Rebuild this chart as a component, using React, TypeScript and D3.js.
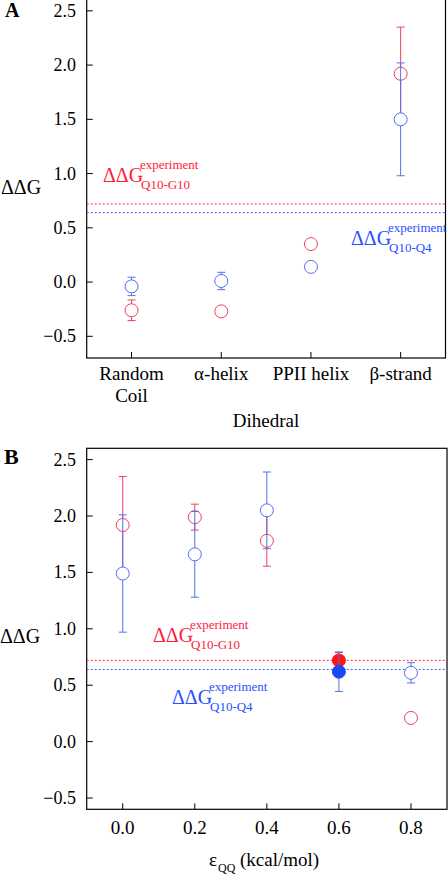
import React from "react";
import * as d3 from "d3";

const categoriesA = ["Random Coil", "α-helix", "PPII helix", "β-strand"];
const redA = [-0.26, -0.27, 0.35, 1.92];
const redErrA = [0.095, 0, 0, 0.43];
const blueA = [-0.04, 0.01, 0.14, 1.5];
const blueErrA = [0.085, 0.08, 0, 0.52];

const epsB = [0, 0.2, 0.4, 0.6, 0.8];
const redB = [1.92, 1.99, 1.78, 0.72, 0.21];
const redErrB = [0.43, 0.115, 0.225, 0.07, 0];
const blueB = [1.49, 1.66, 2.05, 0.62, 0.61];
const blueErrB = [0.52, 0.38, 0.34, 0.175, 0.09];
const filledB = [false, false, false, true, false];

const yTicks = [-0.5, 0, 0.5, 1, 1.5, 2, 2.5];
const xTicksB = [0, 0.2, 0.4, 0.6, 0.8];
const expRed = 0.72;
const expBlue = 0.64;

const RED = "#f0405a";
const BLUE = "#5070f0";
const RED_DASH = "#ff2050";
const BLUE_DASH = "#3858f8";
const RED_FILL = "#ff1414";
const BLUE_FILL = "#1848f0";
const FONT = "Liberation Serif, DejaVu Serif, serif";

function ErrPoint({ x, y, e, yS, color, filled, fillColor }: any) {
  const cy = yS(y);
  return (
    <g>
      {e > 0 && (
        <g stroke={color} strokeWidth={1}>
          <line x1={x} x2={x} y1={yS(y + e)} y2={yS(y - e)} />
          <line x1={x - 4} x2={x + 4} y1={yS(y + e)} y2={yS(y + e)} />
          <line x1={x - 4} x2={x + 4} y1={yS(y - e)} y2={yS(y - e)} />
        </g>
      )}
      <circle
        cx={x}
        cy={cy}
        r={6.5}
        fill={filled ? fillColor : "#fff"}
        stroke={filled ? fillColor : color}
        strokeWidth={1}
      />
    </g>
  );
}

function ExpLabel({ x, y, color, sub }: any) {
  return (
    <g fill={color}>
      <text x={x} y={y} style={{ fontFamily: FONT, fontSize: 20 }}>ΔΔG</text>
      <text x={x + 37} y={y - 13} style={{ fontFamily: FONT, fontSize: 13 }}>experiment</text>
      <text x={x + 38} y={y + 7} style={{ fontFamily: FONT, fontSize: 13 }}>{sub}</text>
    </g>
  );
}

export default function App() {
  const axL = 86.7, axR = 445.5, ayT = -1, ayB = 358;
  const xA = d3.scaleLinear().domain([0.5, 4.5]).range([axL, axR]);
  const yA = d3.scaleLinear().domain([-0.7, 2.6]).range([ayB, 0]);
  const bxL = 86.7, bxR = 447, byT = 448.3, byB = 809.3;
  const xB = d3.scaleLinear().domain([-0.1, 0.9]).range([bxL, bxR]);
  const yB = d3.scaleLinear().domain([-0.6, 2.6]).range([byB, byT]);
  const fmt = d3.format(".1f");

  const catLines = categoriesA.map((c) => (c === "Random Coil" ? ["Random", "Coil"] : [c]));
  const t = (size: number, extra: any = {}) => ({ fontFamily: FONT, fontSize: size, ...extra });

  return (
    <svg
      width={448}
      height={874}
      style={{ position: "absolute", left: 0, top: 0, background: "#fff", fontFamily: FONT }}
    >
      <rect x={0} y={0} width={448} height={874} fill="#fff" />
      {/* Panel A */}
      <text x={5} y={17} style={t(20, { fontWeight: "bold" })}>A</text>
      <rect x={axL} y={ayT} width={axR - axL} height={ayB - ayT} fill="none" stroke="#000" strokeWidth={1.2} />
      {yTicks.map((v) => (
        <g key={"ya" + v}>
          <line x1={axL} x2={axL + 6} y1={yA(v)} y2={yA(v)} stroke="#000" />
          <text x={76} y={yA(v) + 6} textAnchor="end" style={t(18)}>{fmt(v)}</text>
        </g>
      ))}
      {categoriesA.map((c, i) => (
        <g key={c}>
          <line x1={xA(i + 1)} x2={xA(i + 1)} y1={ayB} y2={ayB - 6} stroke="#000" />
          {catLines[i].map((ln, j) => (
            <text key={ln} x={xA(i + 1)} y={380 + j * 21.7} textAnchor="middle" style={t(19)}>{ln}</text>
          ))}
        </g>
      ))}
      <text x={266} y={427} textAnchor="middle" style={t(19)}>Dihedral</text>
      <text x={1} y={194} style={t(20)}>ΔΔG</text>
      <line x1={axL} x2={axR} y1={yA(expRed)} y2={yA(expRed)} stroke={RED_DASH} strokeDasharray="2,2" />
      <line x1={axL} x2={axR} y1={yA(expBlue)} y2={yA(expBlue)} stroke={BLUE_DASH} strokeDasharray="2,2" />
      <ExpLabel x={103} y={182} color="#ff1a3a" sub="Q10-G10" />
      <ExpLabel x={351} y={245} color="#2850ff" sub="Q10-Q4" />
      {categoriesA.map((c, i) => (
        <ErrPoint key={"ra" + i} x={xA(i + 1)} y={redA[i]} e={redErrA[i]} yS={yA} color={RED} />
      ))}
      {categoriesA.map((c, i) => (
        <ErrPoint key={"ba" + i} x={xA(i + 1)} y={blueA[i]} e={blueErrA[i]} yS={yA} color={BLUE} />
      ))}

      {/* Panel B */}
      <text x={4} y={464} style={t(22, { fontWeight: "bold" })}>B</text>
      <rect x={bxL} y={byT} width={bxR - bxL} height={byB - byT} fill="none" stroke="#000" strokeWidth={1.2} />
      {yTicks.map((v) => (
        <g key={"yb" + v}>
          <line x1={bxL} x2={bxL + 6} y1={yB(v)} y2={yB(v)} stroke="#000" />
          <text x={76} y={yB(v) + 6} textAnchor="end" style={t(18)}>{fmt(v)}</text>
        </g>
      ))}
      {xTicksB.map((v) => (
        <g key={"xb" + v}>
          <line x1={xB(v)} x2={xB(v)} y1={byB} y2={byB - 6} stroke="#000" />
          <text x={xB(v)} y={834} textAnchor="middle" style={t(19)}>{fmt(v)}</text>
        </g>
      ))}
      <text x={209} y={866} style={t(19)}>ε</text>
      <text x={218} y={872} style={t(12)}>QQ</text>
      <text x={240} y={866} style={t(19)}>(kcal/mol)</text>
      <text x={0} y={643} style={t(20)}>ΔΔG</text>
      <line x1={bxL} x2={bxR} y1={yB(expRed)} y2={yB(expRed)} stroke={RED_DASH} strokeDasharray="2,2" />
      <line x1={bxL} x2={bxR} y1={yB(expBlue)} y2={yB(expBlue)} stroke={BLUE_DASH} strokeDasharray="2,2" />
      <ExpLabel x={153} y={642} color="#ff1a3a" sub="Q10-G10" />
      <ExpLabel x={172} y={704} color="#2850ff" sub="Q10-Q4" />
      {epsB.map((v, i) => (
        <ErrPoint key={"rb" + i} x={xB(v)} y={redB[i]} e={redErrB[i]} yS={yB} color={RED} filled={filledB[i]} fillColor={RED_FILL} />
      ))}
      {epsB.map((v, i) => (
        <ErrPoint key={"bb" + i} x={xB(v)} y={blueB[i]} e={blueErrB[i]} yS={yB} color={BLUE} filled={filledB[i]} fillColor={BLUE_FILL} />
      ))}
    </svg>
  );
}
